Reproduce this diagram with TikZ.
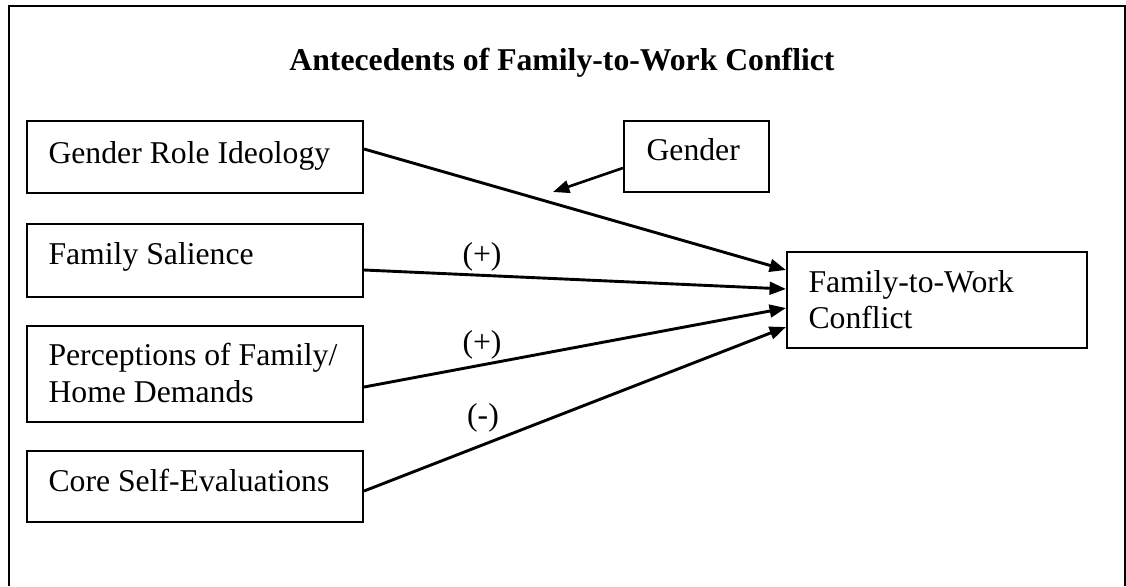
\documentclass[tikz,border=0pt]{standalone}
\usepackage{fontspec}
\setmainfont{Liberation Serif}
\usetikzlibrary{arrows.meta,calc}

\begin{document}
\begin{tikzpicture}[
  x=0.3785pt, y=-0.3785pt,
  every node/.style={font=\fontsize{12pt}{13.8pt}\selectfont},
  varbox/.style={draw, line width=0.8pt, rectangle, inner sep=0pt},
  txt/.style={inner sep=0pt, anchor=base west, align=left},
  sign/.style={inner sep=0pt},
  path/.style={line width=1.1pt, -{Triangle[length=6.2pt,width=4.8pt]}},
]
\useasboundingbox (0,0) rectangle (1126,586);

% open frame around the model
\draw[line width=1pt] (9,586) -- (9,6) -- (1125,6) -- (1125,586);

% title
\node[anchor=base, font=\fontsize{12pt}{13.8pt}\selectfont\bfseries] (title) at (562,70)
  {Antecedents of Family-to-Work Conflict};

% antecedent boxes
\node[varbox, minimum width={336*0.3785pt}, minimum height={72*0.3785pt}] (gri) at (195,157) {};
\node[varbox, minimum width={336*0.3785pt}, minimum height={73*0.3785pt}] (fs)  at (195,260.5) {};
\node[varbox, minimum width={336*0.3785pt}, minimum height={96*0.3785pt}] (pfh) at (195,374) {};
\node[varbox, minimum width={336*0.3785pt}, minimum height={71*0.3785pt}] (cse) at (195,486.5) {};

% moderator and outcome boxes
\node[varbox, minimum width={145*0.3785pt}, minimum height={71*0.3785pt}] (gen) at (696.5,156.5) {};
\node[varbox, minimum width={300*0.3785pt}, minimum height={96*0.3785pt}] (ftw) at (937,300) {};

% box texts
\node[txt] (gri-t)  at (48,163) {Gender Role Ideology};
\node[txt] (fs-t)   at (48,264) {Family Salience};
\node[txt] (pfh-t1) at (48,365) {Perceptions of Family/};
\node[txt] (pfh-t2) at (48,402) {Home Demands};
\node[txt] (cse-t)  at (48,491) {Core Self-Evaluations};
\node[txt] (gen-t)  at (646,160) {Gender};
\node[txt] (ftw-t1) at (808,292) {Family-to-Work};
\node[txt] (ftw-t2) at (808,328) {Conflict};

% paths into the outcome
\draw[path] ($(gri.east)+(0,-8)$)  -- ($(ftw.west)+(0,-30)$);
\draw[path] ($(fs.east)+(0,9.5)$)  -- ($(ftw.west)+(0,-11)$);
\draw[path] ($(pfh.east)+(0,13)$)  -- ($(ftw.west)+(0,8)$);
\draw[path] ($(cse.east)+(0,4.5)$) -- ($(ftw.west)+(0,27)$);

% moderation by gender
\coordinate (mod) at (553,192);
\draw[path, line width=1pt] ($(gen.west)+(0,11.5)$) -- (mod);

% signs of the effects
\node[sign] (s-fs)  at (482,257) {(+)};
\node[sign] (s-pfh) at (482,345) {(+)};
\node[sign] (s-cse) at (483,418) {(-)};
\end{tikzpicture}
\end{document}
